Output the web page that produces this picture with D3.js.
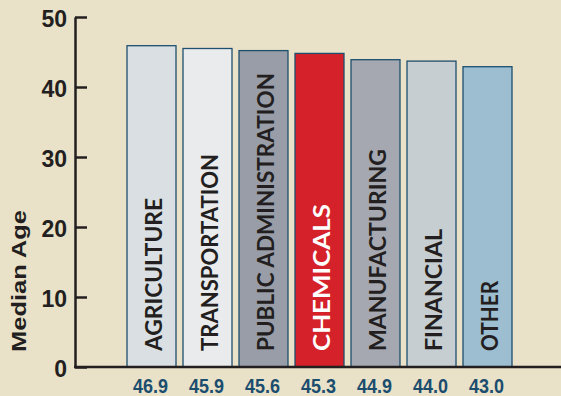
<!DOCTYPE html>
<html><head><meta charset="utf-8">
<script src="https://cdn.jsdelivr.net/npm/d3@7"></script>
<style>html,body{margin:0;padding:0;background:#e9e1c8;}svg{display:block;}</style>
</head><body>
<svg id="chart" width="561" height="396"></svg>
<script>
// Data
const categories = ["AGRICULTURE","TRANSPORTATION","PUBLIC ADMINISTRATION","CHEMICALS","MANUFACTURING","FINANCIAL","OTHER"];
const barValues = [45.9, 45.5, 45.2, 44.8, 43.9, 43.7, 42.9];
const valueLabels = ["46.9","45.9","45.6","45.3","44.9","44.0","43.0"];
const yTicks = [0,10,20,30,40,50];
const barColors = ["#d9dfe2","#eaebed","#989da7","#d4212a","#a5a8b0","#c6ced2","#9dbdd1"];
const labelColors = ["#231f20","#231f20","#231f20","#ffffff","#231f20","#231f20","#231f20"];
const labelLengths = [153, 197, 278, 147, 202, 122, 70];

const svg = d3.select("#chart");
svg.append("rect").attr("width",561).attr("height",396).attr("fill","#e9e1c8");

const x = d3.scaleBand().domain(categories).range([127, 512]).paddingInner(0.125).paddingOuter(0);
const y = d3.scaleLinear().domain([0,50]).range([367,17]);

// bars
svg.append("g").selectAll("rect").data(categories).join("rect")
  .attr("x", d => x(d))
  .attr("y", (d,i) => y(barValues[i]))
  .attr("width", x.bandwidth())
  .attr("height", (d,i) => y(0) - y(barValues[i]))
  .attr("fill", (d,i) => barColors[i])
  .attr("stroke", "#1d4f6e")
  .attr("stroke-width", 1.3);

// bar labels (rotated)
svg.append("g").selectAll("text").data(categories).join("text")
  .attr("transform", d => `translate(${x(d) + x.bandwidth()/2 + 10.5},351) rotate(-90)`)
  .attr("text-anchor","start")
  .attr("font-family","Lato, 'Liberation Sans', sans-serif")
  .attr("font-weight","700")
  .attr("font-size","23px")
  .attr("fill",(d,i) => labelColors[i])
  .attr("textLength",(d,i) => labelLengths[i])
  .attr("lengthAdjust","spacingAndGlyphs")
  .text(d => d);

// value labels
svg.append("g").selectAll("text").data(categories).join("text")
  .attr("x", d => x(d) + x.bandwidth()/2 - 1)
  .attr("y", 393)
  .attr("text-anchor","middle")
  .attr("font-family","'Liberation Sans', Arial, sans-serif")
  .attr("font-weight","700")
  .attr("font-size","20px")
  .attr("fill","#1b4d6e")
  .attr("textLength",35)
  .attr("lengthAdjust","spacingAndGlyphs")
  .text((d,i) => valueLabels[i]);

// y axis
const axis = d3.axisLeft(y).tickValues(yTicks).tickSizeInner(-12).tickSizeOuter(0).tickPadding(20);
const gy = svg.append("g").attr("transform","translate(75,0)").call(axis);
gy.select(".domain").attr("stroke","#231f20").attr("stroke-width",2.5);
gy.selectAll(".tick line").attr("stroke","#231f20").attr("stroke-width",2.5);
gy.selectAll(".tick text")
  .attr("x",-8)
  .attr("dy","0.4em")
  .attr("font-family","'Liberation Sans', Arial, sans-serif")
  .attr("font-weight","700")
  .attr("font-size","23px")
  .attr("fill","#231f20");

// baseline
svg.append("line").attr("x1",74).attr("x2",561).attr("y1",y(0)).attr("y2",y(0))
  .attr("stroke","#231f20").attr("stroke-width",2.5);

// y axis title
svg.append("text")
  .attr("transform","translate(26,281) rotate(-90)")
  .attr("text-anchor","middle")
  .attr("font-family","'Liberation Sans', Arial, sans-serif")
  .attr("font-weight","700")
  .attr("font-size","21px")
  .attr("textLength",142)
  .attr("lengthAdjust","spacingAndGlyphs")
  .attr("fill","#231f20")
  .text("Median Age");
</script>
</body></html>
